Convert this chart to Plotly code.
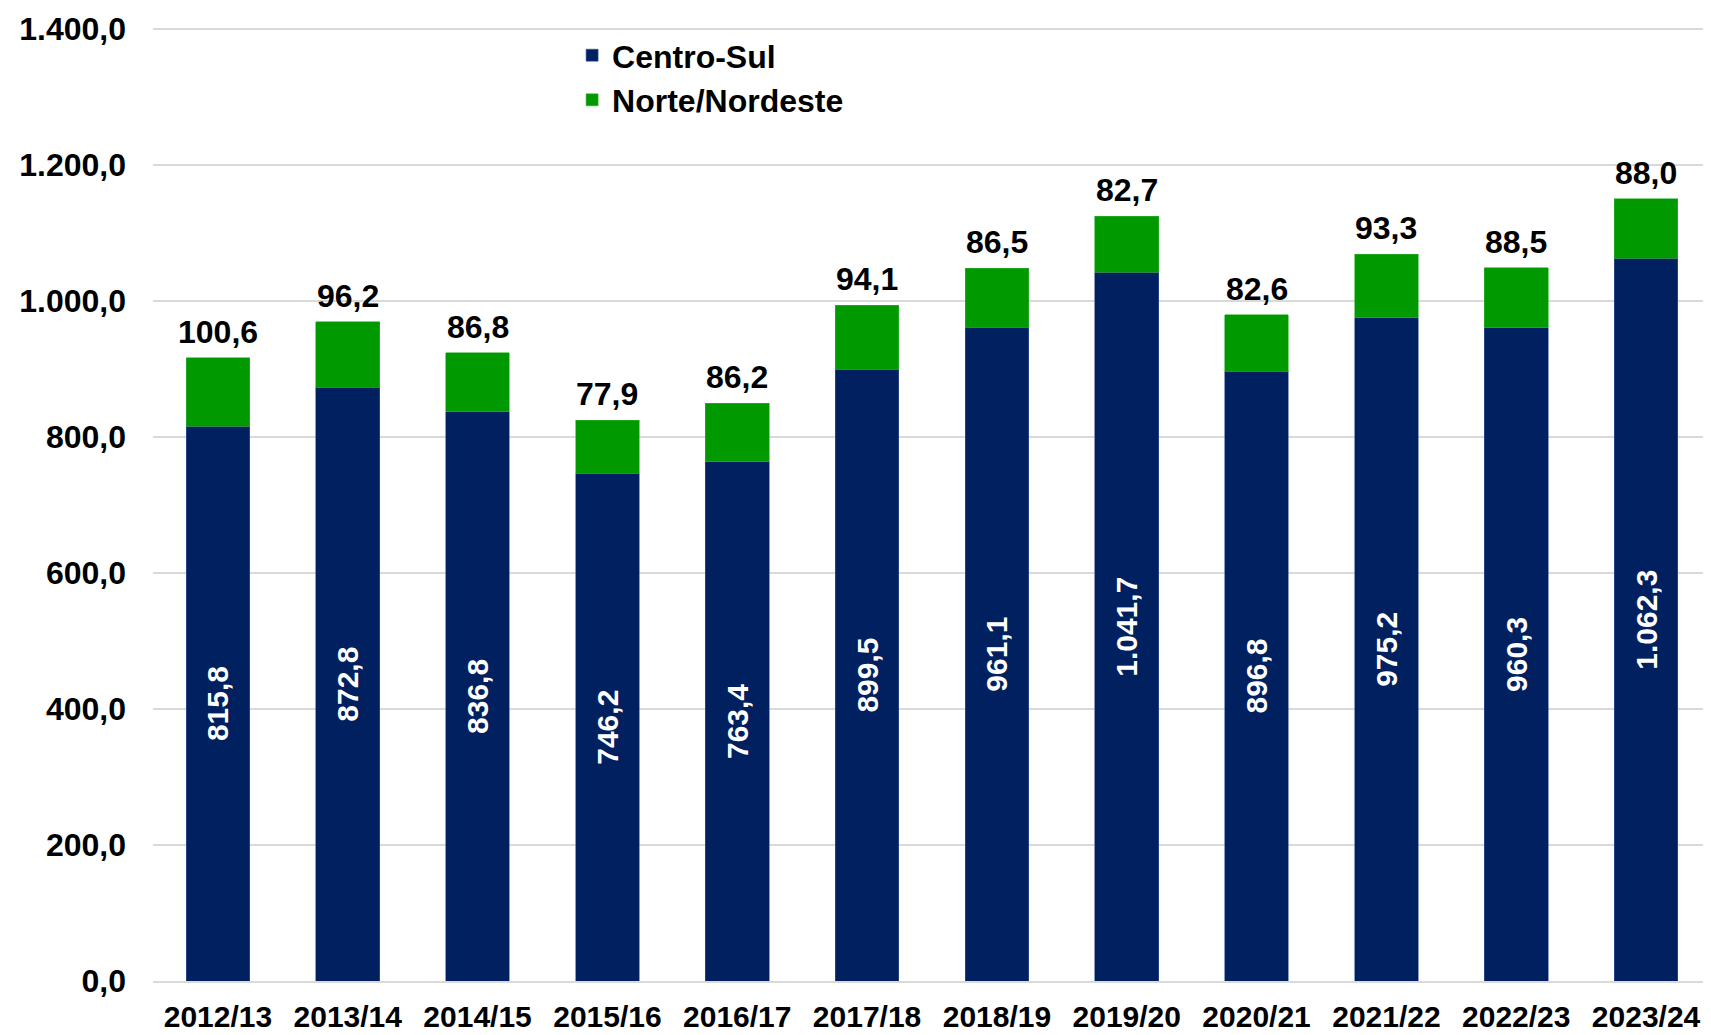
import plotly.graph_objects as go

# Safras e produção por região
safras = ["2012/13", "2013/14", "2014/15", "2015/16", "2016/17", "2017/18",
          "2018/19", "2019/20", "2020/21", "2021/22", "2022/23", "2023/24"]
centro_sul = [815.8, 872.8, 836.8, 746.2, 763.4, 899.5,
              961.1, 1041.7, 896.8, 975.2, 960.3, 1062.3]
norte_nordeste = [100.6, 96.2, 86.8, 77.9, 86.2, 94.1,
                  86.5, 82.7, 82.6, 93.3, 88.5, 88.0]

font_family = "Arial, Liberation Sans, sans-serif"

fig = go.Figure()
fig.add_trace(go.Bar(
    x=safras, y=centro_sul, name="Centro-Sul",
    marker=dict(color="#002060", line=dict(color="#3a5a9a", width=0.6)),
    texttemplate="%{y:,.1f}", textposition="inside", insidetextanchor="middle",
    textangle=-90, constraintext="none",
    insidetextfont=dict(color="white", size=30, family=font_family, weight="bold"),
))
fig.add_trace(go.Bar(
    x=safras, y=norte_nordeste, name="Norte/Nordeste",
    marker=dict(color="#009900", line=dict(color="#33b233", width=0.6)),
))

# rótulos do Norte/Nordeste acima de cada coluna empilhada
totais = [c + n for c, n in zip(centro_sul, norte_nordeste)]
for s, t, n in zip(safras, totais, norte_nordeste):
    fig.add_annotation(
        x=s, y=t, text=f"{n:.1f}".replace(".", ","), showarrow=False,
        yanchor="bottom", yshift=6,
        font=dict(size=32, color="black", family=font_family, weight="bold"),
    )

# the page body has an 8px margin, so the figure is 8px smaller than the window
fig.update_layout(
    barmode="stack",
    bargap=0.51,
    width=1703, height=1027,
    margin=dict(l=145, r=0, t=18, b=54),
    plot_bgcolor="white", paper_bgcolor="white",
    separators=",.",
    font=dict(family=font_family, size=30, color="black", weight="bold"),
    showlegend=True,
    legend=dict(
        x=0.269, y=0.998, xanchor="left", yanchor="top",
        traceorder="normal", bgcolor="rgba(0,0,0,0)",
        font=dict(size=32, family=font_family, weight="bold"),
        itemwidth=30, tracegroupgap=0,
    ),
)
fig.update_xaxes(
    automargin=False,
    showgrid=False, showline=True, linecolor="#D9D9D9", linewidth=2,
    ticks="", ticklabelstandoff=8,
    tickfont=dict(size=30, family=font_family, weight="bold"),
)
fig.update_yaxes(
    automargin=False,
    range=[0, 1404], tickvals=[0, 200, 400, 600, 800, 1000, 1200, 1400],
    tickformat=",.1f",
    showgrid=True, gridcolor="#D9D9D9", gridwidth=2,
    zeroline=False, showline=False, ticks="", ticklabelstandoff=26,
    tickfont=dict(size=32, family=font_family, weight="bold"),
)

fig.write_html("out.html")
